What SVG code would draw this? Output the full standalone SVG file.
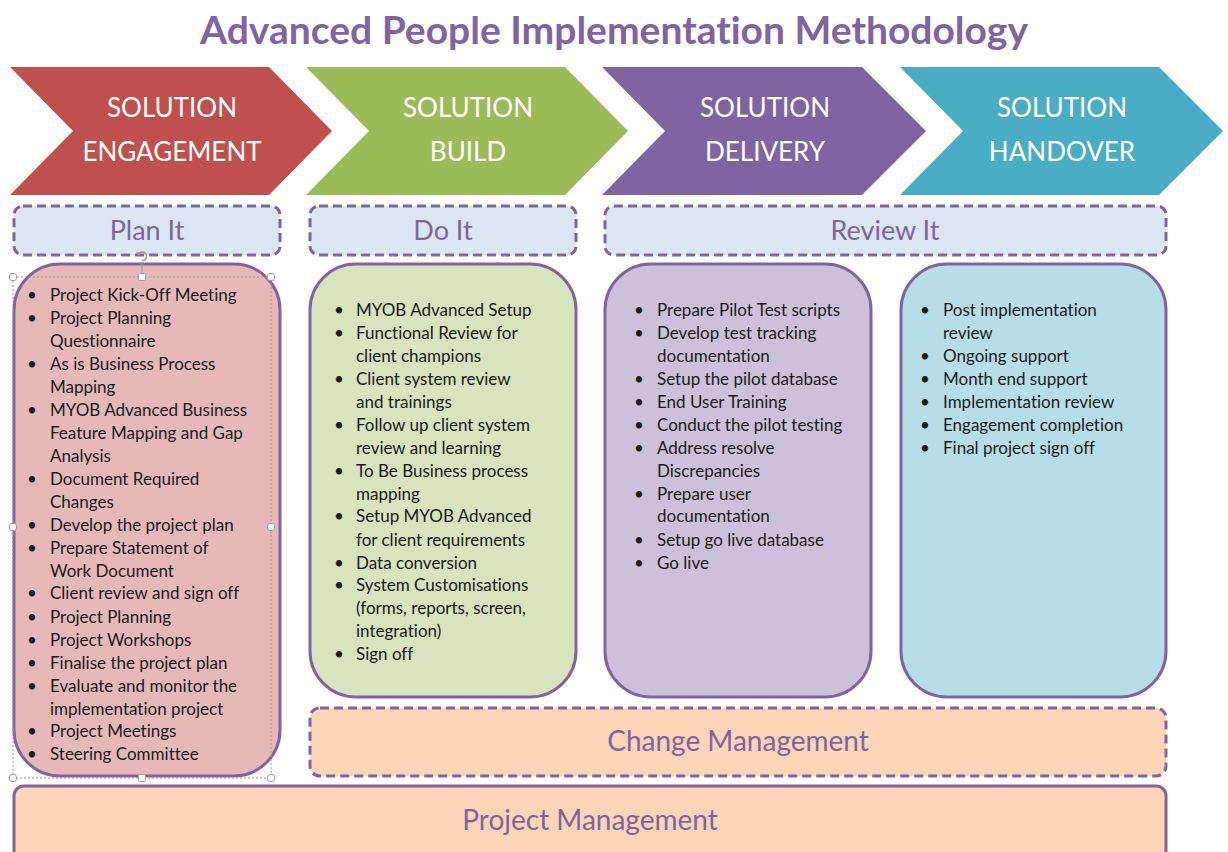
<svg xmlns="http://www.w3.org/2000/svg" width="1228" height="852" viewBox="0 0 1228 852">
  <defs>
    <style>
      text { font-variant-ligatures: none; }
      .title { font-family: Lato, "Liberation Sans", sans-serif; font-weight: bold; font-size: 38px; fill: #8064A2; }
      .chev-label { font-family: Lato, "Liberation Sans", sans-serif; font-size: 26px; fill: #FFFFFF; text-anchor: middle; }
      .phase { fill: #DCE6F2; stroke: #8064A2; stroke-width: 3; stroke-dasharray: 9 5; }
      .phase-label { font-family: Lato, "Liberation Sans", sans-serif; font-size: 27px; fill: #8064A2; text-anchor: middle; }
      .card { stroke: #8064A2; stroke-width: 3; }
      .item { font-family: Lato, "Liberation Sans", sans-serif; font-size: 17px; fill: #1A1A1A; }
      .band { fill: #FBD5B5; stroke: #8064A2; stroke-width: 3; }
      .band-dash { stroke-dasharray: 9 5; }
      .band-label { font-family: Lato, "Liberation Sans", sans-serif; font-size: 28px; fill: #8064A2; text-anchor: middle; }
      .handle { fill: #FFFFFF; stroke: #A0A0A0; stroke-width: 1; }
    </style>
  </defs>

  <rect width="1228" height="852" fill="#FFFFFF"/>

  <text class="title" x="614" y="44" text-anchor="middle" textLength="828" lengthAdjust="spacingAndGlyphs">Advanced People Implementation Methodology</text>

  <!-- Stage chevrons -->
  <g id="stage-engagement">
    <polygon points="10,67 269,67 332,131 269,195 10,195 73,131" fill="#C0504D"/>
    <text class="chev-label" x="172" y="117">SOLUTION</text>
    <text class="chev-label" x="172" y="161">ENGAGEMENT</text>
  </g>
  <g id="stage-build">
    <polygon points="306,67 565,67 628,131 565,195 306,195 369,131" fill="#9BBB59"/>
    <text class="chev-label" x="468" y="117">SOLUTION</text>
    <text class="chev-label" x="468" y="161">BUILD</text>
  </g>
  <g id="stage-delivery">
    <polygon points="602,67 862,67 926,131 862,195 602,195 665,131" fill="#8064A2"/>
    <text class="chev-label" x="765" y="117">SOLUTION</text>
    <text class="chev-label" x="765" y="161">DELIVERY</text>
  </g>
  <g id="stage-handover">
    <polygon points="900,67 1159,67 1223,131 1159,195 900,195 963,131" fill="#4BACC6"/>
    <text class="chev-label" x="1062" y="117">SOLUTION</text>
    <text class="chev-label" x="1062" y="161">HANDOVER</text>
  </g>

  <!-- Phase headers -->
  <g id="phase-plan">
    <rect class="phase" x="14" y="206" width="266" height="49" rx="9"/>
    <text class="phase-label" x="147" y="240">Plan It</text>
  </g>
  <g id="phase-do">
    <rect class="phase" x="310" y="206" width="266" height="49" rx="9"/>
    <text class="phase-label" x="443" y="240">Do It</text>
  </g>
  <g id="phase-review">
    <rect class="phase" x="605" y="206" width="561" height="49" rx="9"/>
    <text class="phase-label" x="885" y="240">Review It</text>
  </g>

  <!-- Activity cards -->
  <g id="card-plan">
    <rect class="card" x="14" y="264" width="266" height="512" rx="46" fill="#E6B9B8"/>
    <text class="item">
      <tspan x="27" y="301">•</tspan><tspan x="50" y="301">Project Kick-Off Meeting</tspan>
      <tspan x="27" y="324">•</tspan><tspan x="50" y="324">Project Planning</tspan>
      <tspan x="50" y="347">Questionnaire</tspan>
      <tspan x="27" y="370">•</tspan><tspan x="50" y="370">As is Business Process</tspan>
      <tspan x="50" y="393">Mapping</tspan>
      <tspan x="27" y="416">•</tspan><tspan x="50" y="416">MYOB Advanced Business</tspan>
      <tspan x="50" y="439">Feature Mapping and Gap</tspan>
      <tspan x="50" y="462">Analysis</tspan>
      <tspan x="27" y="485">•</tspan><tspan x="50" y="485">Document Required</tspan>
      <tspan x="50" y="508">Changes</tspan>
      <tspan x="27" y="531">•</tspan><tspan x="50" y="531">Develop the project plan</tspan>
      <tspan x="27" y="554">•</tspan><tspan x="50" y="554">Prepare Statement of</tspan>
      <tspan x="50" y="577">Work Document</tspan>
      <tspan x="27" y="599">•</tspan><tspan x="50" y="599">Client review and sign off</tspan>
      <tspan x="27" y="623">•</tspan><tspan x="50" y="623">Project Planning</tspan>
      <tspan x="27" y="646">•</tspan><tspan x="50" y="646">Project Workshops</tspan>
      <tspan x="27" y="669">•</tspan><tspan x="50" y="669">Finalise the project plan</tspan>
      <tspan x="27" y="692">•</tspan><tspan x="50" y="692">Evaluate and monitor the</tspan>
      <tspan x="50" y="715">implementation project</tspan>
      <tspan x="27" y="737">•</tspan><tspan x="50" y="737">Project Meetings</tspan>
      <tspan x="27" y="760">•</tspan><tspan x="50" y="760">Steering Committee</tspan>
    </text>
  </g>
  <g id="card-do">
    <rect class="card" x="310" y="264" width="266" height="433" rx="46" fill="#D7E4BD"/>
    <text class="item">
      <tspan x="334" y="316">•</tspan><tspan x="356" y="316">MYOB Advanced Setup</tspan>
      <tspan x="334" y="339">•</tspan><tspan x="356" y="339">Functional Review for</tspan>
      <tspan x="356" y="362">client champions</tspan>
      <tspan x="334" y="385">•</tspan><tspan x="356" y="385">Client system review</tspan>
      <tspan x="356" y="408">and trainings</tspan>
      <tspan x="334" y="431">•</tspan><tspan x="356" y="431">Follow up client system</tspan>
      <tspan x="356" y="454">review and learning</tspan>
      <tspan x="334" y="477">•</tspan><tspan x="356" y="477">To Be Business process</tspan>
      <tspan x="356" y="500">mapping</tspan>
      <tspan x="334" y="522">•</tspan><tspan x="356" y="522">Setup MYOB Advanced</tspan>
      <tspan x="356" y="546">for client requirements</tspan>
      <tspan x="334" y="569">•</tspan><tspan x="356" y="569">Data conversion</tspan>
      <tspan x="334" y="591">•</tspan><tspan x="356" y="591">System Customisations</tspan>
      <tspan x="356" y="614">(forms, reports, screen,</tspan>
      <tspan x="356" y="637">integration)</tspan>
      <tspan x="334" y="660">•</tspan><tspan x="356" y="660">Sign off</tspan>
    </text>
  </g>
  <g id="card-delivery">
    <rect class="card" x="605" y="264" width="266" height="433" rx="46" fill="#CCC1DA"/>
    <text class="item">
      <tspan x="634" y="316">•</tspan><tspan x="657" y="316">Prepare Pilot Test scripts</tspan>
      <tspan x="634" y="339">•</tspan><tspan x="657" y="339">Develop test tracking</tspan>
      <tspan x="657" y="362">documentation</tspan>
      <tspan x="634" y="385">•</tspan><tspan x="657" y="385">Setup the pilot database</tspan>
      <tspan x="634" y="408">•</tspan><tspan x="657" y="408">End User Training</tspan>
      <tspan x="634" y="431">•</tspan><tspan x="657" y="431">Conduct the pilot testing</tspan>
      <tspan x="634" y="454">•</tspan><tspan x="657" y="454">Address resolve</tspan>
      <tspan x="657" y="477">Discrepancies</tspan>
      <tspan x="634" y="500">•</tspan><tspan x="657" y="500">Prepare user</tspan>
      <tspan x="657" y="522">documentation</tspan>
      <tspan x="634" y="546">•</tspan><tspan x="657" y="546">Setup go live database</tspan>
      <tspan x="634" y="569">•</tspan><tspan x="657" y="569">Go live</tspan>
    </text>
  </g>
  <g id="card-handover">
    <rect class="card" x="901" y="264" width="265" height="433" rx="46" fill="#B7DEE8"/>
    <text class="item">
      <tspan x="920" y="316">•</tspan><tspan x="943" y="316">Post implementation</tspan>
      <tspan x="943" y="339">review</tspan>
      <tspan x="920" y="362">•</tspan><tspan x="943" y="362">Ongoing support</tspan>
      <tspan x="920" y="385">•</tspan><tspan x="943" y="385">Month end support</tspan>
      <tspan x="920" y="408">•</tspan><tspan x="943" y="408">Implementation review</tspan>
      <tspan x="920" y="431">•</tspan><tspan x="943" y="431">Engagement completion</tspan>
      <tspan x="920" y="454">•</tspan><tspan x="943" y="454">Final project sign off</tspan>
    </text>
  </g>

  <!-- Cross-cutting bands -->
  <g id="band-change">
    <rect class="band band-dash" x="310" y="708" width="856" height="68" rx="10"/>
    <text class="band-label" x="738" y="751">Change Management</text>
  </g>
  <g id="band-project">
    <rect class="band" x="14" y="786" width="1152" height="80" rx="10"/>
    <text class="band-label" x="590" y="830">Project Management</text>
  </g>

  <!-- Selection frame on the first card's text box -->
  <g id="selection-frame">
    <rect x="13" y="277" width="258" height="501" fill="none" stroke="#9A9A9A" stroke-width="1" stroke-dasharray="2 2"/>
    <line x1="142" y1="262" x2="142" y2="277" stroke="#9A9A9A" stroke-width="1"/>
    <path d="M138.5,254.5 A4.2,4.2 0 1 1 142,260.5" fill="none" stroke="#9A9A9A" stroke-width="1.5"/>
    <path d="M136,252 L138.5,255.5 L141.5,252.8 Z" fill="#9A9A9A"/>
    <rect class="handle" x="9.5" y="273.5" width="7" height="7" rx="2.5"/>
    <rect class="handle" x="138.5" y="273.5" width="7" height="7" rx="1"/>
    <rect class="handle" x="267.5" y="273.5" width="7" height="7" rx="2.5"/>
    <rect class="handle" x="9.5" y="523.5" width="7" height="7" rx="2.5"/>
    <rect class="handle" x="267.5" y="523.5" width="7" height="7" rx="2.5"/>
    <rect class="handle" x="9.5" y="774.5" width="7" height="7" rx="2.5"/>
    <rect class="handle" x="138.5" y="774.5" width="7" height="7" rx="1"/>
    <rect class="handle" x="267.5" y="774.5" width="7" height="7" rx="2.5"/>
  </g>
</svg>
